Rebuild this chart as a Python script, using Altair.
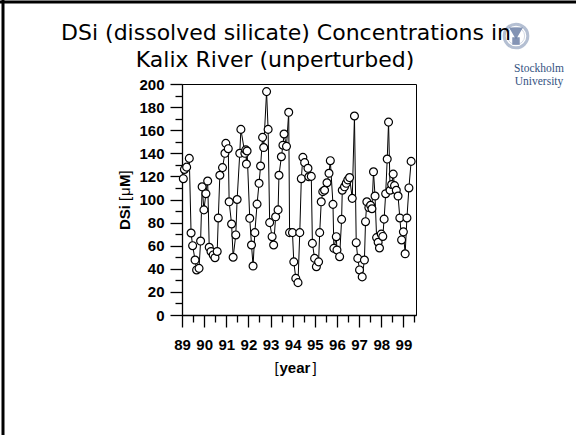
import altair as alt
import pandas as pd

# ---------------- data ----------------
YEARS = [89.06, 89.11, 89.21, 89.33, 89.41, 89.48, 89.59, 89.66, 89.77, 89.84,
         89.91, 89.99, 90.08, 90.16, 90.23, 90.31, 90.41, 90.49, 90.59, 90.64,
         90.71, 90.83, 90.94, 90.98, 91.09, 91.13, 91.24, 91.31, 91.43, 91.49,
         91.61, 91.66, 91.84, 91.88, 91.91, 91.94, 92.06, 92.14, 92.21, 92.29,
         92.39, 92.48, 92.55, 92.64, 92.69, 92.82, 92.89, 92.96, 93.07, 93.14,
         93.23, 93.34, 93.38, 93.49, 93.56, 93.61, 93.72, 93.82, 93.86, 93.99,
         94.05, 94.14, 94.24, 94.32, 94.39, 94.46, 94.54, 94.69, 94.73, 94.84,
         94.89, 94.99, 95.07, 95.17, 95.22, 95.29, 95.36, 95.44, 95.55, 95.64,
         95.70, 95.82, 95.86, 95.97, 96.00, 96.12, 96.21, 96.24, 96.34, 96.42,
         96.49, 96.57, 96.69, 96.79, 96.87, 96.94, 97.02, 97.14, 97.24, 97.29,
         97.35, 97.44, 97.52, 97.58, 97.65, 97.72, 97.79, 97.86, 97.92, 98.00,
         98.07, 98.13, 98.20, 98.27, 98.33, 98.40, 98.47, 98.54, 98.60, 98.68,
         98.76, 98.84, 98.92, 99.00, 99.08, 99.16, 99.25, 99.35]
DSI = [118, 126, 128, 135.6, 71, 60, 47.6, 39, 40.4, 64,
       111, 91, 105, 116, 58.6, 55, 52, 49.6, 55, 84,
       121, 127.6, 140, 148.6, 144, 98, 78.8, 50, 69.3, 100,
       140, 160.7, 140, 143, 130.7, 142, 83.7, 60.6, 42.4, 71.3,
       96, 114, 129, 153.8, 145, 193.4, 160.7, 80, 67.8, 60.6,
       85, 91, 121, 137, 147, 156.7, 146, 175.5, 71.3, 71.3,
       46, 31.7, 28, 71.3, 118, 136.5, 131.9, 127, 119.7, 120,
       62, 49, 41.8, 46, 71.3, 98, 106.8, 108, 114.5, 122.7,
       133.6, 95.8, 57.7, 67.8, 56.3, 50.5, 82.8, 108, 111, 114,
       117, 119, 101, 172.3, 62.6, 49, 39, 33, 47.6, 80.8,
       98, 93, 95, 92, 124, 103, 67, 63, 58, 70,
       68, 83, 105, 135, 167, 108, 113, 122, 112, 108,
       103, 84, 65, 72, 53, 84, 110, 133]

X_DOMAIN = [89, 99.57]
Y_DOMAIN = [0, 200]
X_MAJOR = [89, 90, 91, 92, 93, 94, 95, 96, 97, 98, 99]
X_MINOR = [89.5, 90.5, 91.5, 92.5, 93.5, 94.5, 95.5, 96.5, 97.5, 98.5, 99.5]
Y_MAJOR = [0, 20, 40, 60, 80, 100, 120, 140, 160, 180, 200]
Y_MINOR = [10, 30, 50, 70, 90, 110, 130, 150, 170, 190]

TITLE_LINES = ["DSi (dissolved silicate) Concentrations in",
               "Kalix River (unperturbed)"]
LOGO_LINES = ["Stockholm", "University"]

# ---------------- layout (pixels) ----------------
W, H = 234, 231
PAD_L, PAD_T = 182, 84
PAD_R, PAD_B = 576 - PAD_L - W, 435 - PAD_T - H


def px(X):
    return X - PAD_L


def py(Y):
    return Y - PAD_T


df = pd.DataFrame({"year": YEARS, "dsi": DSI})
one = pd.DataFrame({"k": [0]})

xscale = alt.Scale(domain=X_DOMAIN, nice=False, zero=False)
yscale = alt.Scale(domain=Y_DOMAIN, nice=False, zero=True)

common = dict(domainColor="black", domainWidth=1.3, tickColor="black",
              tickWidth=1.3, grid=False, title=None)

x_major = alt.Axis(values=X_MAJOR, tickSize=12, format="d", orient="bottom",
                   labelFont="Liberation Sans", labelFontWeight="bold",
                   labelFontSize=15, labelColor="black", labelPadding=10,
                   labelOverlap=False, labelFlush=False, **common)
y_major = alt.Axis(values=Y_MAJOR, tickSize=12, format="d", orient="left",
                   labelFont="Liberation Sans", labelFontWeight="bold",
                   labelFontSize=15, labelColor="black", labelPadding=6,
                   labelOverlap=False, labelFlush=False, **common)
x_minor = alt.Axis(values=X_MINOR, tickSize=7, labels=False, domain=False,
                   orient="bottom", tickColor="black", tickWidth=1.3,
                   grid=False, title=None)
y_minor = alt.Axis(values=Y_MINOR, tickSize=7, labels=False, domain=False,
                   orient="left", tickColor="black", tickWidth=1.3,
                   grid=False, title=None)

base = alt.Chart(df)
line = base.mark_line(color="black", strokeWidth=1).encode(
    x=alt.X("year:Q", scale=xscale, axis=x_major),
    y=alt.Y("dsi:Q", scale=yscale, axis=y_major))
pts = base.mark_circle(color="white", stroke="black", strokeWidth=1.2,
                       size=62, opacity=1).encode(
    x=alt.X("year:Q", scale=xscale, axis=x_minor),
    y=alt.Y("dsi:Q", scale=yscale, axis=y_minor))

plot = alt.layer(line, pts).resolve_axis(x="independent", y="independent")


def txt(s, X, Y, size, weight="normal", font="DejaVu Sans", color="black",
        align="center", angle=0, baseline="alphabetic"):
    return alt.Chart(one).mark_text(
        font=font, fontSize=size, fontWeight=weight, color=color,
        align=align, baseline=baseline, angle=angle,
    ).encode(x=alt.value(px(X)), y=alt.value(py(Y)), text=alt.value(s))


deco = []

# logo (drawn first so the title's "in" sits over the emblem)
deco.append(alt.Chart(one).mark_point(shape="circle", size=560, stroke="#b4bfd2",
                                      strokeWidth=3, filled=False, opacity=1).encode(
    x=alt.value(px(516)), y=alt.value(py(36))))
deco.append(alt.Chart(one).mark_point(shape="circle", size=300, stroke="#d3d9e4",
                                      strokeWidth=1, filled=False, opacity=1).encode(
    x=alt.value(px(516)), y=alt.value(py(36))))
deco.append(alt.Chart(one).mark_point(shape="triangle-down", size=110,
                                      fill="#6f82a8", stroke="#6f82a8",
                                      filled=True, opacity=0.85).encode(
    x=alt.value(px(516)), y=alt.value(py(33))))
deco.append(alt.Chart(one).mark_point(shape="square", size=30,
                                      fill="#6f82a8", stroke="#6f82a8",
                                      filled=True, opacity=0.85).encode(
    x=alt.value(px(516)), y=alt.value(py(41))))
deco.append(txt(LOGO_LINES[0], 539, 72, 11.5, font="Liberation Serif", color="#34527f"))
deco.append(txt(LOGO_LINES[1], 539, 85, 11.5, font="Liberation Serif", color="#34527f"))

# slide title
deco.append(txt(TITLE_LINES[0], 286, 40, 22))
deco.append(txt(TITLE_LINES[1], 275, 67, 22))

# axis titles (mixed weight pieces), y title reads bottom-to-top
YT_X = 125
yparts = [("DSi", "bold", 29), ("[", "normal", 5), ("\u03bc", "normal", 9),
          ("M", "bold", 12.5), ("]", "normal", 5)]
ystart = 200 + 30
for s, wgt, w in yparts:
    deco.append(txt(s, YT_X, ystart, 15, weight=wgt, font="Liberation Sans",
                    align="left", angle=270, baseline="middle"))
    ystart -= w

xparts = [("[", "normal", 5), ("year", "bold", 33), ("]", "normal", 5)]
xstart = 296 - 21.5
for s, wgt, w in xparts:
    deco.append(txt(s, xstart, 373, 15, weight=wgt, font="Liberation Sans",
                    align="left"))
    xstart += w

# slide border (top and left)
deco.append(alt.Chart(one).mark_rule(color="black", strokeWidth=3).encode(
    x=alt.value(px(0)), x2=alt.value(px(576)), y=alt.value(py(2))))
deco.append(alt.Chart(one).mark_rule(color="black", strokeWidth=3).encode(
    x=alt.value(px(3)), y=alt.value(py(0)), y2=alt.value(py(435))))

chart = alt.layer(plot, *deco).properties(
    width=W, height=H,
    padding={"left": PAD_L, "top": PAD_T, "right": PAD_R, "bottom": PAD_B},
    autosize=alt.AutoSizeParams(type="none"),
    background="white",
).configure_view(stroke="black", strokeWidth=1)

chart.save("out.html", embed_options={"renderer": "svg", "actions": False})
